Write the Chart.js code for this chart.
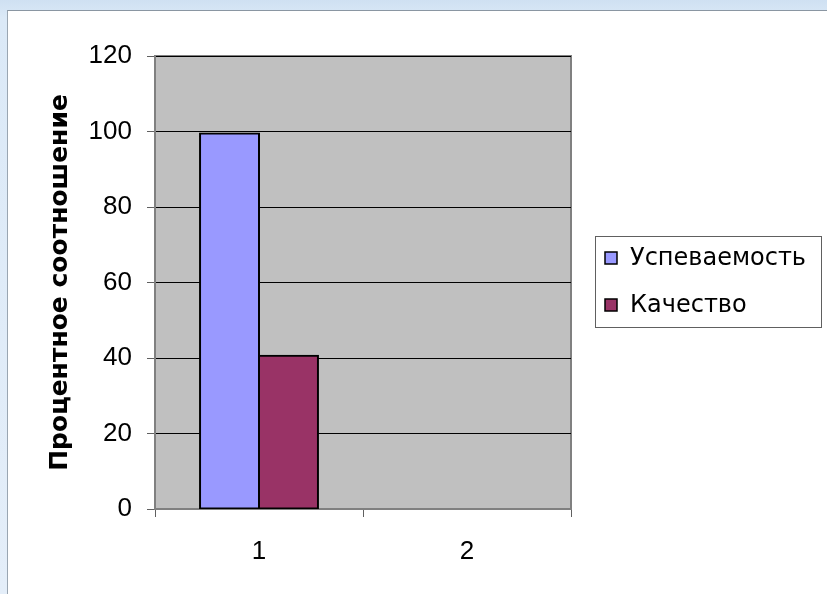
<!DOCTYPE html>
<html>
<head>
<meta charset="utf-8">
<script src="https://cdn.jsdelivr.net/npm/chart.js@4"></script>
<style>
  html, body { margin: 0; padding: 0; }
  body {
    width: 827px; height: 594px; overflow: hidden; position: relative;
    background: linear-gradient(180deg, #cfe0f2 0%, #dbe9f7 3%, #e4eef9 100%);
  }
  #panel {
    position: absolute; left: 7px; top: 10px; width: 840px; height: 600px;
    background: #ffffff; border-left: 1px solid #9aa6b2; border-top: 1px solid #8a96a2;
  }
  #wrap { position: absolute; left: 0; top: 0; width: 827px; height: 594px; }
</style>
</head>
<body>
<div id="panel"></div>
<div id="wrap"><canvas id="c" width="827" height="594"></canvas></div>
<script>
// ---- data ----
const categories = ['1', '2'];
const seriesNames = ['Успеваемость', 'Качество'];
const uspevaemost = [99.5, null];
const kachestvo = [40.6, null];
const yTicks = [0, 20, 40, 60, 80, 100, 120];
const yAxisTitle = 'Процентное соотношение';
const seriesColors = ['#9999FF', '#993366'];

const plotBg = {
  id: 'plotBg',
  beforeDraw(chart) {
    const {ctx, chartArea: a} = chart;
    ctx.save();
    ctx.fillStyle = '#C0C0C0';
    ctx.fillRect(a.left, a.top, a.right - a.left, a.bottom - a.top);
    ctx.strokeStyle = '#808080';
    ctx.lineWidth = 2;
    ctx.strokeRect(a.left, a.top, a.right - a.left, a.bottom - a.top);
    ctx.restore();
  }
};

const boxedLegend = {
  id: 'boxedLegend',
  afterDraw(chart) {
    const {ctx, chartArea: a} = chart;
    const ds = chart.data.datasets;
    const left = a.right + 24, width = 226, height = 91;
    const cy = (a.top + a.bottom) / 2 - 1;
    const top = cy - height / 2;
    ctx.save();
    ctx.strokeStyle = '#606060';
    ctx.lineWidth = 1;
    ctx.strokeRect(Math.round(left) + 0.5, Math.round(top) + 0.5, width, height);
    ctx.font = '24px "DejaVu Sans"';
    ctx.textBaseline = 'middle';
    ctx.textAlign = 'left';
    const spacing = 47;
    ds.forEach((d, i) => {
      const y = cy + (i - (ds.length - 1) / 2) * spacing;
      ctx.fillStyle = d.backgroundColor;
      ctx.fillRect(left + 10, Math.round(y - 6), 12, 12);
      ctx.strokeStyle = '#000';
      ctx.lineWidth = 1.5;
      ctx.strokeRect(left + 10, Math.round(y - 6), 12, 12);
      ctx.fillStyle = '#000';
      ctx.fillText(d.label, left + 35, y + 1);
    });
    ctx.restore();
  }
};

new Chart(document.getElementById('c'), {
  type: 'bar',
  data: {
    labels: categories,
    datasets: [
      { label: seriesNames[0], data: uspevaemost, backgroundColor: seriesColors[0] },
      { label: seriesNames[1], data: kachestvo, backgroundColor: seriesColors[1] }
    ]
  },
  options: {
    responsive: false,
    animation: false,
    layout: { padding: { top: 56, right: 256, bottom: 0, left: 0 } },
    datasets: {
      bar: {
        barPercentage: 1,
        categoryPercentage: 0.567,
        borderColor: '#000000',
        borderWidth: 2,
        borderSkipped: false,
        inflateAmount: 1
      }
    },
    plugins: {
      legend: { display: false },
      tooltip: { enabled: false }
    },
    scales: {
      x: {
        grid: {
          offset: true,
          drawOnChartArea: false,
          tickLength: 8,
          color: '#808080',
          tickColor: '#606060'
        },
        border: { color: '#808080', width: 2 },
        ticks: {
          color: '#000',
          padding: 19,
          font: { family: '"Liberation Sans", Arial, sans-serif', size: 26 }
        },
        afterFit(s) { s.height = 85; }
      },
      y: {
        min: 0,
        max: 120,
        afterBuildTicks(s) { s.ticks = yTicks.map(v => ({ value: v })); },
        grid: {
          color: '#000000',
          lineWidth: 1,
          tickLength: 8,
          tickColor: '#606060'
        },
        border: { color: '#808080', width: 2 },
        ticks: {
          color: '#000',
          padding: 15,
          font: { family: '"Liberation Sans", Arial, sans-serif', size: 26 }
        },
        title: {
          display: true,
          text: yAxisTitle,
          color: '#000',
          padding: { top: 45, bottom: 0 },
          font: { family: '"DejaVu Sans", sans-serif', size: 25, weight: 'bold' }
        },
        afterFit(s) { s.width = 155; }
      }
    }
  },
  plugins: [plotBg, boxedLegend]
});
</script>
</body>
</html>
